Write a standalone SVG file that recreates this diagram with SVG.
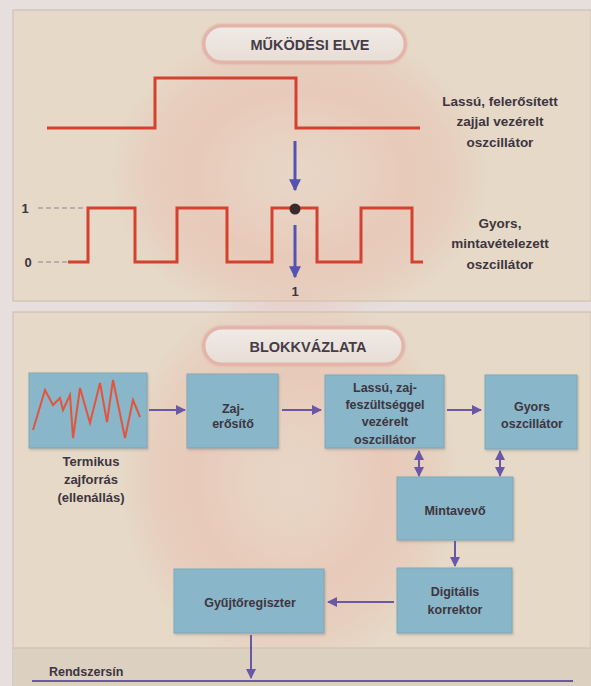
<svg xmlns="http://www.w3.org/2000/svg" width="591" height="686" viewBox="0 0 591 686">
<defs>
<style>
.t{font-family:"Liberation Sans",Arial,sans-serif;font-weight:bold;fill:#3d353f;text-anchor:middle}
.bt{font-size:12.5px}
.lt{font-size:13.5px}
.tt{font-size:14.5px;fill:#463c48}
.box{fill:#89b6c9;stroke:#7fa9bc;stroke-width:1}
.wave{fill:none;stroke:#d5412f;stroke-width:3;stroke-linejoin:miter}
.pa{stroke:#6a58a6;stroke-width:2;fill:none}
.ba{stroke:#5552b4;stroke-width:3;fill:none}
.dash{stroke:#8d8585;stroke-width:1.2;stroke-dasharray:5 3;fill:none}
.pill{fill:url(#pillg);stroke:#e3b5aa;stroke-width:3}
</style>
<radialGradient id="glow" cx="0.5" cy="0.5" r="0.5">
<stop offset="0" stop-color="#edcfc2" stop-opacity="0.25"/>
<stop offset="0.55" stop-color="#eab7aa" stop-opacity="0.45"/>
<stop offset="0.8" stop-color="#eab5a8" stop-opacity="0.3"/>
<stop offset="1" stop-color="#eab5a8" stop-opacity="0"/>
</radialGradient>
<linearGradient id="pillg" x1="0" y1="0" x2="0" y2="1">
<stop offset="0" stop-color="#f0ebe6"/>
<stop offset="1" stop-color="#e7ddd5"/>
</linearGradient>
<marker id="mp" viewBox="0 0 10 10" refX="9" refY="5" markerWidth="5" markerHeight="5" orient="auto-start-reverse" markerUnits="strokeWidth">
<path d="M0,0 L10,5 L0,10 z" fill="#6a58a6"/>
</marker>
<marker id="mb" viewBox="0 0 10 10" refX="9" refY="5" markerWidth="4.5" markerHeight="4" orient="auto" markerUnits="strokeWidth">
<path d="M0,0 L10,5 L0,10 z" fill="#5552b4"/>
</marker>
<filter id="sh" x="-10%" y="-10%" width="120%" height="130%">
<feDropShadow dx="1" dy="1.5" stdDeviation="1" flood-color="#7a6a60" flood-opacity="0.35"/>
</filter>
<filter id="soft" x="-10%" y="-30%" width="120%" height="160%">
<feGaussianBlur stdDeviation="1.2"/>
</filter>
</defs>

<!-- page -->
<rect x="0" y="0" width="591" height="686" fill="#e6dfdd"/>

<!-- top panel -->
<g id="panel-top">
<rect x="13" y="10" width="578" height="291" fill="#e6d9c7" stroke="#c9bcae" stroke-width="1"/>
<ellipse cx="300" cy="175" rx="190" ry="150" fill="url(#glow)"/>
</g>
<!-- bottom panel -->
<g id="panel-bottom">
<rect x="13" y="312" width="578" height="374" fill="#e6d9c7" stroke="#c9bcae" stroke-width="1"/>
<ellipse cx="290" cy="480" rx="170" ry="190" fill="url(#glow)"/>
<rect x="13" y="648" width="578" height="38" fill="#dcd0c0"/>
<line x1="13" y1="648" x2="591" y2="648" stroke="#cdbfae" stroke-width="1"/>
</g>

<!-- titles -->
<g id="title-top">
<rect x="204" y="26" width="201" height="36" rx="18" fill="none" stroke="#e0aea2" stroke-width="4" filter="url(#soft)"/>
<rect class="pill" x="204" y="26" width="201" height="36" rx="18" stroke="none"/>
<text class="t tt" x="310" y="50">MŰKÖDÉSI ELVE</text>
</g>
<g id="title-bottom">
<rect x="204" y="328" width="199" height="36" rx="18" fill="none" stroke="#e0aea2" stroke-width="4" filter="url(#soft)"/>
<rect class="pill" x="204" y="328" width="199" height="36" rx="18" stroke="none"/>
<text class="t tt" x="308" y="352">BLOKKVÁZLATA</text>
</g>

<!-- principle waveforms -->
<g id="slow-wave">
<polyline class="wave" points="47,128 155,128 155,78 296,78 296,128 420,128"/>
<text class="t lt" x="500" y="106">Lassú, felerősített</text>
<text class="t lt" x="500" y="126">zajjal vezérelt</text>
<text class="t lt" x="500" y="147">oszcillátor</text>
</g>
<g id="fast-wave">
<line class="dash" x1="38" y1="208" x2="84" y2="208"/>
<line class="dash" x1="38" y1="262" x2="68" y2="262"/>
<text class="t" x="25" y="213" style="font-size:13px">1</text>
<text class="t" x="28" y="267" style="font-size:13px">0</text>
<polyline class="wave" points="68,262 88,262 88,208 135,208 135,262 177,262 177,208 227,208 227,262 272,262 272,208 317,208 317,262 361,262 361,208 412,208 412,262 423,262"/>
<circle cx="295" cy="209" r="5.5" fill="#3a2a2a"/>
<text class="t lt" x="500" y="228">Gyors,</text>
<text class="t lt" x="500" y="248">mintavételezett</text>
<text class="t lt" x="500" y="269">oszcillátor</text>
<text class="t" x="295" y="296" style="font-size:13px">1</text>
</g>

<!-- block nodes -->
<g id="noise-source">
<rect class="box" x="29" y="373" width="118" height="75" filter="url(#sh)"/>
<polyline fill="none" stroke="#e2553c" stroke-width="2" stroke-linejoin="miter" points="33,430 45,390 53,405 60,398 63,410 70,395 73,438 80,388 90,423 100,383 107,422 113,380 125,438 133,400 140,417"/>
<text class="t bt" x="91" y="466" style="font-size:13px">Termikus</text>
<text class="t bt" x="91" y="484" style="font-size:13px">zajforrás</text>
<text class="t bt" x="91" y="502" style="font-size:13px">(ellenállás)</text>
</g>
<g id="noise-amp">
<rect class="box" x="187" y="374" width="91" height="74" filter="url(#sh)"/>
<text class="t bt" x="233" y="413">Zaj-</text>
<text class="t bt" x="233" y="428">erősítő</text>
</g>
<g id="slow-osc">
<rect class="box" x="325" y="375" width="119" height="73" filter="url(#sh)"/>
<text class="t bt" x="385" y="392">Lassú, zaj-</text>
<text class="t bt" x="385" y="409">feszültséggel</text>
<text class="t bt" x="385" y="426">vezérelt</text>
<text class="t bt" x="385" y="444">oszcillátor</text>
</g>
<g id="fast-osc">
<rect class="box" x="485" y="375" width="92" height="74" filter="url(#sh)"/>
<text class="t bt" x="532" y="411">Gyors</text>
<text class="t bt" x="532" y="428">oszcillátor</text>
</g>
<g id="sampler">
<rect class="box" x="397" y="477" width="116" height="63" filter="url(#sh)"/>
<text class="t bt" x="455" y="515">Mintavevő</text>
</g>
<g id="corrector">
<rect class="box" x="397" y="568" width="115" height="65" filter="url(#sh)"/>
<text class="t bt" x="455" y="596">Digitális</text>
<text class="t bt" x="455" y="614">korrektor</text>
</g>
<g id="register">
<rect class="box" x="174" y="569" width="150" height="64" filter="url(#sh)"/>
<text class="t bt" x="250" y="607">Gyűjtőregiszter</text>
</g>
<g id="bus">
<line x1="32" y1="681" x2="573" y2="681" stroke="#6a58a6" stroke-width="2"/>
<text class="t" x="49" y="676" style="font-size:12.5px;text-anchor:start">Rendszersín</text>
</g>

<!-- connectors -->
<g id="connectors">
<line class="ba" x1="295" y1="141" x2="295" y2="190" marker-end="url(#mb)"/>
<line class="ba" x1="295" y1="225" x2="295" y2="277" marker-end="url(#mb)"/>
<line class="pa" x1="149" y1="410" x2="185" y2="410" marker-end="url(#mp)"/>
<line class="pa" x1="282" y1="410" x2="321" y2="410" marker-end="url(#mp)"/>
<line class="pa" x1="447" y1="410" x2="481" y2="410" marker-end="url(#mp)"/>
<line class="pa" x1="419" y1="451" x2="419" y2="476" marker-start="url(#mp)" marker-end="url(#mp)"/>
<line class="pa" x1="500" y1="451" x2="500" y2="476" marker-start="url(#mp)" marker-end="url(#mp)"/>
<line class="pa" x1="455" y1="541" x2="455" y2="566" marker-end="url(#mp)"/>
<line class="pa" x1="394" y1="602" x2="328" y2="602" marker-end="url(#mp)"/>
<line class="pa" x1="251" y1="635" x2="251" y2="678" marker-end="url(#mp)"/>
</g>
</svg>
